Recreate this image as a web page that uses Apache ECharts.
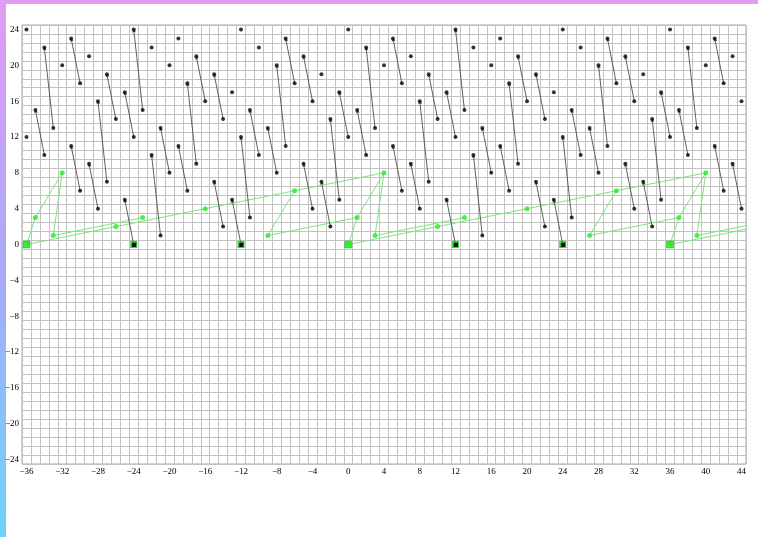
<!DOCTYPE html>
<html>
<head>
<meta charset="utf-8">
<script src="https://cdn.jsdelivr.net/npm/echarts@6/dist/echarts.min.js"></script>
<style>
  html, body { margin: 0; padding: 0; background: #fff; }
  #chart { width: 758px; height: 537px; }
</style>
</head>
<body>
<div id="chart"></div>
<script>
// Tick labels
var xLabels = [-36, -32, -28, -24, -20, -16, -12, -8, -4, 0, 4, 8, 12, 16, 20, 24, 28, 32, 36, 40, 44];
var yLabels = [-24, -20, -16, -12, -8, -4, 0, 4, 8, 12, 16, 20, 24];

// Black arrows: [top point, lower point one column to the right]
var blackSegs = [
  [[-35, 15], [-34, 10]], [[-34, 22], [-33, 13]], [[-31, 23], [-30, 18]], [[-31, 11], [-30, 6]],
  [[-29, 9], [-28, 4]], [[-28, 16], [-27, 7]], [[-27, 19], [-26, 14]], [[-25, 17], [-24, 12]],
  [[-25, 5], [-24, 0]], [[-24, 24], [-23, 15]], [[-22, 10], [-21, 1]], [[-21, 13], [-20, 8]],
  [[-19, 11], [-18, 6]], [[-18, 18], [-17, 9]], [[-17, 21], [-16, 16]], [[-15, 19], [-14, 14]],
  [[-15, 7], [-14, 2]], [[-13, 5], [-12, 0]], [[-12, 12], [-11, 3]], [[-11, 15], [-10, 10]],
  [[-9, 13], [-8, 8]], [[-8, 20], [-7, 11]], [[-7, 23], [-6, 18]], [[-5, 21], [-4, 16]],
  [[-5, 9], [-4, 4]], [[-3, 7], [-2, 2]], [[-2, 14], [-1, 5]], [[-1, 17], [0, 12]],
  [[1, 15], [2, 10]], [[2, 22], [3, 13]], [[5, 23], [6, 18]], [[5, 11], [6, 6]],
  [[7, 9], [8, 4]], [[8, 16], [9, 7]], [[9, 19], [10, 14]], [[11, 17], [12, 12]],
  [[11, 5], [12, 0]], [[12, 24], [13, 15]], [[14, 10], [15, 1]], [[15, 13], [16, 8]],
  [[17, 11], [18, 6]], [[18, 18], [19, 9]], [[19, 21], [20, 16]], [[21, 19], [22, 14]],
  [[21, 7], [22, 2]], [[23, 5], [24, 0]], [[24, 12], [25, 3]], [[25, 15], [26, 10]],
  [[27, 13], [28, 8]], [[28, 20], [29, 11]], [[29, 23], [30, 18]], [[31, 21], [32, 16]],
  [[31, 9], [32, 4]], [[33, 7], [34, 2]], [[34, 14], [35, 5]], [[35, 17], [36, 12]],
  [[37, 15], [38, 10]], [[38, 22], [39, 13]], [[41, 23], [42, 18]], [[41, 11], [42, 6]],
  [[43, 9], [44, 4]]
];

// Black dots without a drawn arrow
var blackDots = [
  [-36, 24], [-36, 12], [-32, 20], [-29, 21], [-22, 22], [-20, 20], [-19, 23], [-13, 17],
  [-12, 24], [-10, 22], [-3, 19],
  [0, 24], [4, 20], [7, 21], [14, 22], [16, 20], [17, 23], [23, 17], [24, 24], [26, 22], [33, 19],
  [36, 24], [40, 20], [43, 21], [44, 16]
];

// Green path
var greenDots = [
  [-35, 3], [-33, 1], [-32, 8], [-26, 2], [-23, 3], [-16, 4], [-9, 1], [-6, 6],
  [1, 3], [3, 1], [4, 8], [10, 2], [13, 3], [20, 4], [27, 1], [30, 6],
  [37, 3], [39, 1], [40, 8]
];
var greenSquares = [[-36, 0], [0, 0], [36, 0]];
var mixedSquares = [[-24, 0], [-12, 0], [12, 0], [24, 0]];
var greenLinks = [
  [[-36, 0], [-35, 3]], [[-35, 3], [-32, 8]], [[-32, 8], [-33, 1]], [[-36, 0], [-26, 2]],
  [[-26, 2], [-16, 4]], [[-16, 4], [-6, 6]], [[-6, 6], [4, 8]], [[-33, 1], [-23, 3]],
  [[-9, 1], [-6, 6]], [[-9, 1], [1, 3]],
  [[0, 0], [1, 3]], [[1, 3], [4, 8]], [[4, 8], [3, 1]], [[0, 0], [10, 2]],
  [[10, 2], [20, 4]], [[20, 4], [30, 6]], [[30, 6], [40, 8]], [[3, 1], [13, 3]],
  [[27, 1], [30, 6]], [[27, 1], [37, 3]],
  [[36, 0], [37, 3]], [[37, 3], [40, 8]], [[40, 8], [39, 1]], [[36, 0], [46, 2]],
  [[39, 1], [49, 3]]
];

var FONT = 'Liberation Serif';

function tickLabel(list) {
  return function (v) {
    var r = Math.round(v);
    if (Math.abs(v - r) > 1e-6 || list.indexOf(r) < 0) return '';
    return String(r).replace('-', '\u2212');
  };
}

function gridAxis(min, max, labels) {
  return {
    type: 'value', min: min, max: max, interval: 0.5,
    axisLine: { show: false }, axisTick: { show: false },
    axisLabel: { formatter: tickLabel(labels), fontFamily: FONT, fontSize: 9, color: '#000', margin: 3 },
    splitLine: { show: true, lineStyle: { color: ['#c2c2c2', 'rgba(0,0,0,0)'], width: 1 } }
  };
}

var arrowEnds = [];
blackSegs.forEach(function (s) { arrowEnds.push(s[0]); arrowEnds.push(s[1]); });

var chart = echarts.init(document.getElementById('chart'));
chart.setOption({
  backgroundColor: '#fff',
  animation: false,
  graphic: [
    { type: 'rect', shape: { x: 0, y: 0, width: 758, height: 4 }, style: { fill: '#e39bf5' } },
    {
      type: 'rect', shape: { x: 0, y: 0, width: 6, height: 537 },
      style: {
        fill: new echarts.graphic.LinearGradient(0, 0, 0, 1, [
          { offset: 0, color: '#e39bf5' }, { offset: 0.5, color: '#a9aaf8' }, { offset: 1, color: '#6dd3fd' }
        ])
      }
    }
  ],
  grid: { left: 22, right: 12, top: 25, bottom: 73, show: true, borderColor: '#a8a8a8', borderWidth: 1 },
  xAxis: gridAxis(-36.5, 44.5, xLabels),
  yAxis: gridAxis(-24.5, 24.5, yLabels),
  series: [
    {
      type: 'lines', coordinateSystem: 'cartesian2d', clip: true,
      lineStyle: { color: '#7ee47e', width: 1, opacity: 1 },
      data: greenLinks.map(function (l) { return { coords: l }; })
    },
    {
      type: 'lines', coordinateSystem: 'cartesian2d',
      symbol: ['none', 'arrow'], symbolSize: 3,
      lineStyle: { color: '#3a3a3a', width: 0.8, opacity: 1 },
      data: blackSegs.map(function (s) { return { coords: [s[1], s[0]] }; })
    },
    {
      type: 'scatter', symbol: 'circle', symbolSize: 5,
      itemStyle: { color: '#22ee22' }, data: greenDots
    },
    {
      type: 'scatter', symbol: 'rect', symbolSize: 7,
      itemStyle: { color: '#00ee00', borderColor: '#00b000', borderWidth: 0.5 }, data: greenSquares
    },
    {
      type: 'scatter', symbol: 'rect', symbolSize: 7,
      itemStyle: { color: '#00cc00' }, data: mixedSquares
    },
    {
      type: 'scatter', symbol: 'path://M10,0 L10,10 L0,10 Z', symbolSize: 5,
      itemStyle: { color: '#000' }, data: mixedSquares
    },
    {
      type: 'scatter', symbol: 'circle', symbolSize: 4,
      itemStyle: { color: '#000' }, data: blackDots.concat(arrowEnds)
    }
  ]
});
</script>
</body>
</html>
